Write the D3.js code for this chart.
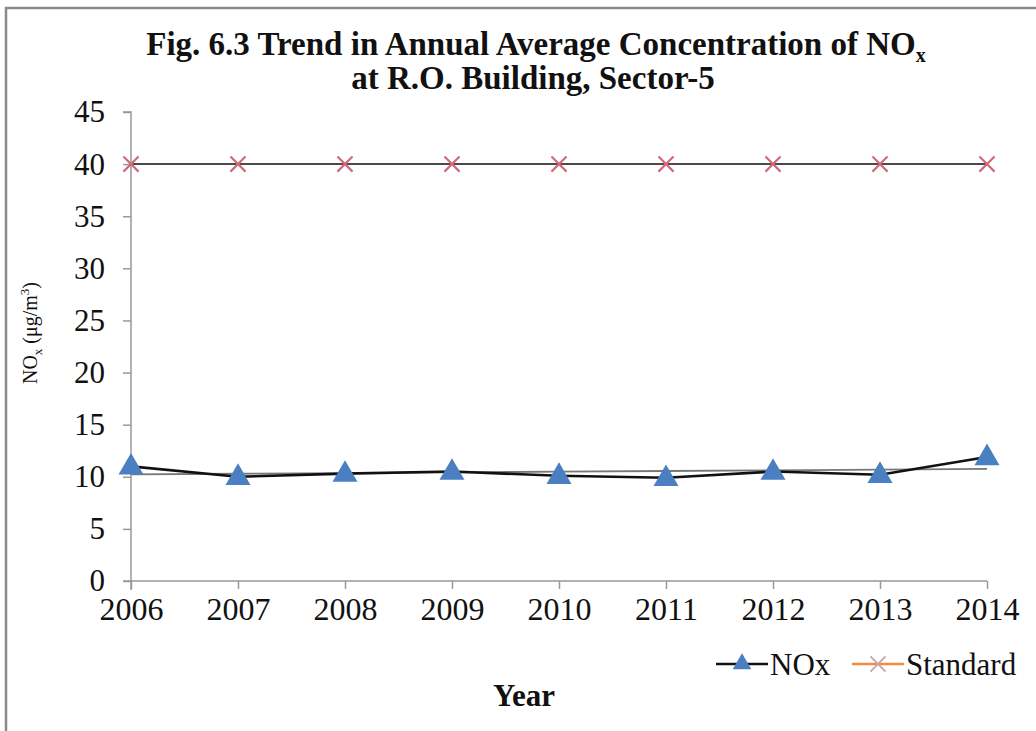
<!DOCTYPE html>
<html><head><meta charset="utf-8">
<script src="https://cdn.jsdelivr.net/npm/d3@7"></script>
<style>body{margin:0;background:#fff}svg{display:block}svg text{font-family:"Liberation Serif","Times New Roman",Times,serif !important}</style>
</head><body>
<script>
const years = [2006, 2007, 2008, 2009, 2010, 2011, 2012, 2013, 2014];
const noxValues = [11.0, 10.0, 10.3, 10.5, 10.1, 9.9, 10.5, 10.2, 11.9];
const standardValues = [40, 40, 40, 40, 40, 40, 40, 40, 40];
const yTicks = [0, 5, 10, 15, 20, 25, 30, 35, 40, 45];
const seriesNames = ["NOx", "Standard"];

const W = 1036, H = 731;
const svg = d3.select("body").append("svg").attr("width", W).attr("height", H);

// frame
svg.append("path").attr("d", `M6,731 V8 H1036`).attr("fill", "none").attr("stroke", "#8a8a8a").attr("stroke-width", 2.5);

const x = d3.scalePoint().domain(years).range([131, 987]);
const y = d3.scaleLinear().domain([0, 45]).range([581, 112]);

// axes
const yAxis = svg.append("g").attr("transform", "translate(131,0)")
  .call(d3.axisLeft(y).tickValues(yTicks).tickSize(8).tickPadding(18));
yAxis.select(".domain").attr("stroke", "#999").attr("stroke-width", 1.5).attr("d", "M-8,112H0V590");
yAxis.selectAll(".tick line").attr("stroke", "#999").attr("stroke-width", 1.5);
yAxis.selectAll("text").attr("font-size", 31).attr("fill", "#111");

const xAxis = svg.append("g").attr("transform", "translate(0,581)")
  .call(d3.axisBottom(x).tickSize(8).tickPadding(8).tickFormat(d3.format("d")));
xAxis.select(".domain").attr("stroke", "#999").attr("stroke-width", 1.5).attr("d", "M123,0H987");
xAxis.selectAll(".tick line").attr("stroke", "#999").attr("stroke-width", 1.5);
xAxis.selectAll("text").attr("font-size", 32).attr("fill", "#111").attr("dy", "0.71em");

// trendline (linear regression of NOx)
const mx = d3.mean(years), my = d3.mean(noxValues);
const slope = d3.sum(years, (d, i) => (d - mx) * (noxValues[i] - my)) / d3.sum(years, d => (d - mx) ** 2);
const trend = years.map(d => my + slope * (d - mx));
const line = d3.line().x((d, i) => x(years[i])).y(d => y(d));
svg.append("path").datum(trend).attr("d", line).attr("fill", "none").attr("stroke", "#777").attr("stroke-width", 1.8);

// standard line
svg.append("path").datum(standardValues).attr("d", line).attr("fill", "none").attr("stroke", "#4a4a4a").attr("stroke-width", 2);
// NOx line
svg.append("path").datum(noxValues).attr("d", line).attr("fill", "none").attr("stroke", "#111").attr("stroke-width", 2.6);

// markers
const tri = d3.symbol().type(d3.symbolTriangle).size(270);
svg.append("g").selectAll("path").data(noxValues).join("path")
  .attr("transform", (d, i) => `translate(${x(years[i])},${y(d) + 1})`)
  .attr("d", tri).attr("fill", "#4a7fc1");

const cross = d3.symbol().type(d3.symbolX).size(150);
svg.append("g").selectAll("path").data(standardValues).join("path")
  .attr("transform", (d, i) => `translate(${x(years[i])},${y(d)})`)
  .attr("d", cross).attr("fill", "none").attr("stroke", "#cf6b7c").attr("stroke-width", 2.2);

// title
const t1 = svg.append("text").attr("x", 536).attr("y", 55).attr("text-anchor", "middle")
  .attr("font-weight", "bold").attr("font-size", 33).attr("fill", "#111");
t1.append("tspan").text("Fig. 6.3 Trend in Annual Average Concentration of NO");
t1.append("tspan").attr("font-size", 20).attr("dy", 7).text("x");
svg.append("text").attr("x", 533).attr("y", 89).attr("text-anchor", "middle")
  .attr("font-weight", "bold").attr("font-size", 33).attr("fill", "#111")
  .text("at R.O. Building, Sector-5");

// y label
const yl = svg.append("text").attr("transform", "translate(37,333) rotate(-90)").attr("text-anchor", "middle")
  .attr("font-size", 20).attr("fill", "#111");
yl.append("tspan").text("NO");
yl.append("tspan").attr("font-size", 13).attr("dy", 5).text("x");
yl.append("tspan").attr("dy", -5).text(" (μg/m");
yl.append("tspan").attr("font-size", 13).attr("dy", -8).text("3");
yl.append("tspan").attr("dy", 8).text(")");

// x label
svg.append("text").attr("x", 524).attr("y", 706).attr("text-anchor", "middle")
  .attr("font-weight", "bold").attr("font-size", 31).attr("fill", "#111").text("Year");

// legend
const lg = svg.append("g").attr("transform", "translate(0,664)");
lg.append("line").attr("x1", 716).attr("x2", 768).attr("stroke", "#111").attr("stroke-width", 2.5);
lg.append("path").attr("transform", "translate(742,0)").attr("d", d3.symbol().type(d3.symbolTriangle).size(150)).attr("fill", "#4a7fc1");
lg.append("text").attr("x", 770).attr("y", 11).attr("font-size", 31).attr("fill", "#111").text(seriesNames[0]);
lg.append("line").attr("x1", 852).attr("x2", 904).attr("stroke", "#f58a3c").attr("stroke-width", 2.5);
lg.append("path").attr("transform", "translate(878,0)").attr("d", d3.symbol().type(d3.symbolX).size(150)).attr("fill", "none").attr("stroke", "#c9a4ad").attr("stroke-width", 1.8);
lg.append("text").attr("x", 906).attr("y", 11).attr("font-size", 31).attr("fill", "#111").text(seriesNames[1]);
</script>
</body></html>
